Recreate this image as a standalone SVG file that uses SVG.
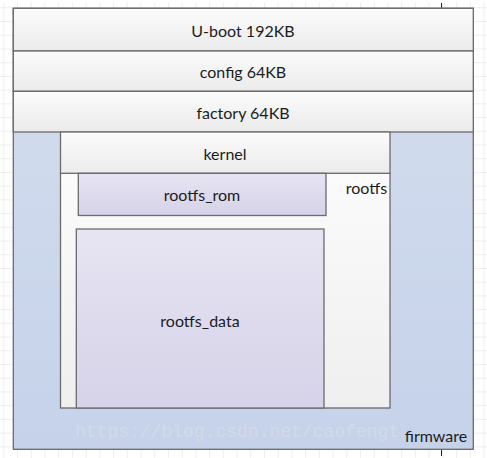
<svg xmlns="http://www.w3.org/2000/svg" width="487" height="458" viewBox="0 0 487 458">
  <style>
    .box { stroke: #6b6b6b; stroke-width: 1.3; }
    .hdr { fill: url(#gHdr); }
    .lbl { font-family: Lato, "Open Sans", "Liberation Sans", sans-serif; font-size: 16px; fill: #1c1c1c; text-anchor: middle; dominant-baseline: central; }
    .wm { font-family: "Liberation Mono", "DejaVu Sans Mono", monospace; font-size: 18px; fill: #e2e2e2; opacity: 0.5; }
  </style>
  <defs>
    <pattern id="grid" x="4.3" y="8.3" width="13.72" height="13.72" patternUnits="userSpaceOnUse">
      <path d="M13.72 0 V13.72 M0 13.72 H13.72" fill="none" stroke="#dedede" stroke-width="1"/>
    </pattern>
    <linearGradient id="gHdr" x1="0" y1="0" x2="0" y2="1">
      <stop offset="0" stop-color="#fbfbfb"/>
      <stop offset="1" stop-color="#ebebeb"/>
    </linearGradient>
    <linearGradient id="gFw" x1="0" y1="0" x2="0" y2="1">
      <stop offset="0" stop-color="#d5deee"/>
      <stop offset="1" stop-color="#c5d2ea"/>
    </linearGradient>
    <linearGradient id="gRoot" x1="0" y1="0" x2="0" y2="1">
      <stop offset="0" stop-color="#fbfbfb"/>
      <stop offset="1" stop-color="#efefef"/>
    </linearGradient>
    <linearGradient id="gPurple" x1="0" y1="0" x2="0" y2="1">
      <stop offset="0" stop-color="#e7e4f3"/>
      <stop offset="1" stop-color="#d6d2e8"/>
    </linearGradient>
  </defs>

  <rect width="487" height="458" fill="#ffffff"/>
  <rect width="487" height="458" fill="url(#grid)"/>
  <rect x="0" y="0" width="487" height="2.5" fill="#ffffff"/>
  <line x1="441.5" y1="3" x2="441.5" y2="8" stroke="#222" stroke-width="1"/>
  <line x1="441.5" y1="450" x2="441.5" y2="456" stroke="#222" stroke-width="1"/>

  <g id="firmware">
    <rect class="box" x="13.3" y="8.3" width="460" height="441" fill="url(#gFw)" stroke-width="1.5" stroke="#5f5f5f"/>
    <text class="wm" x="75" y="437">https://blog.csdn.net/caofengt</text>
    <text class="lbl" x="436" y="435">firmware</text>
  </g>

  <g id="uboot">
    <rect class="box hdr" x="13.3" y="8.3" width="460" height="42.7"/>
    <text class="lbl" x="243" y="30">U-boot 192KB</text>
  </g>
  <g id="config">
    <rect class="box hdr" x="13.3" y="51" width="460" height="40.3"/>
    <text class="lbl" x="243" y="71">config 64KB</text>
  </g>
  <g id="factory">
    <rect class="box hdr" x="13.3" y="91.3" width="460" height="40.7"/>
    <text class="lbl" x="243" y="112">factory 64KB</text>
  </g>

  <g id="rootfs">
    <rect class="box" x="60.5" y="173.3" width="329.5" height="234.7" fill="url(#gRoot)"/>
    <text class="lbl" x="366.5" y="187">rootfs</text>
  </g>
  <g id="kernel">
    <rect class="box hdr" x="60.5" y="132" width="329.5" height="41.3"/>
    <text class="lbl" x="225" y="153">kernel</text>
  </g>
  <g id="rootfs_rom">
    <rect class="box" x="78.3" y="173.3" width="247.7" height="42.2" fill="url(#gPurple)"/>
    <text class="lbl" x="202" y="194">rootfs_rom</text>
  </g>
  <g id="rootfs_data">
    <rect class="box" x="76.3" y="229" width="247.7" height="179" fill="url(#gPurple)"/>
    <text class="lbl" x="200" y="320">rootfs_data</text>
  </g>
  <g id="connectors"/>
</svg>
